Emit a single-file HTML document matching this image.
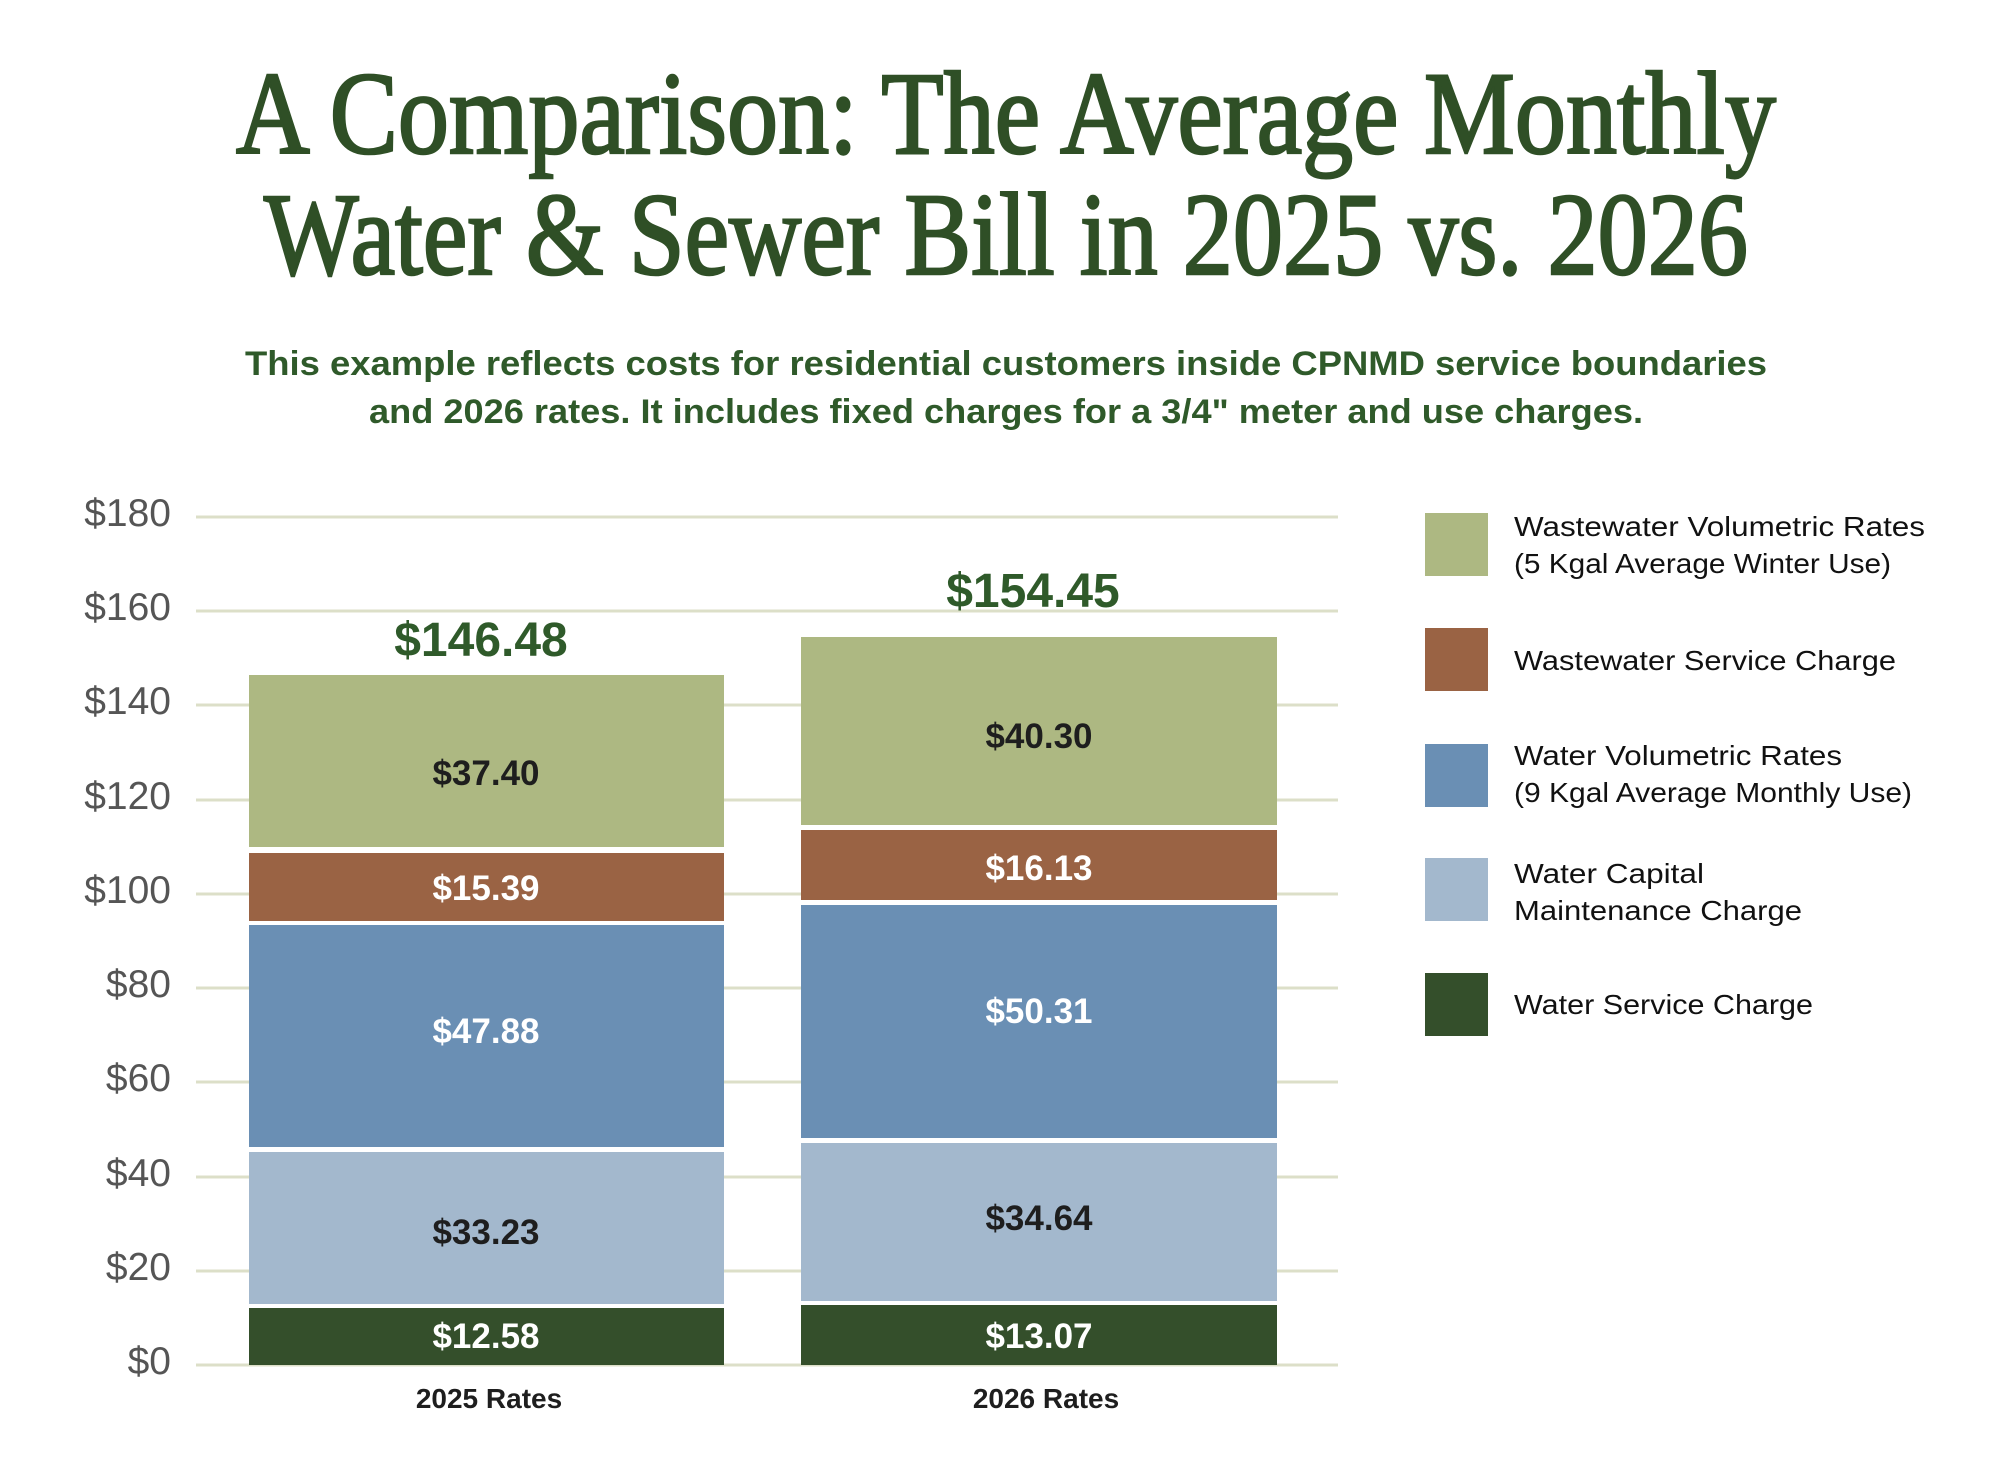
<!DOCTYPE html>
<html><head><meta charset="utf-8"><style>html,body{margin:0;padding:0;background:#fff}svg{display:block}</style></head>
<body>
<svg width="2000" height="1476" viewBox="0 0 2000 1476" xmlns="http://www.w3.org/2000/svg">
<rect width="2000" height="1476" fill="#fff"/>
<g font-family="'Liberation Serif', serif" fill="#2f4f26" stroke="#2f4f26" stroke-width="2.5" text-anchor="middle">
<text x="1006" y="153" font-size="118" textLength="1540" lengthAdjust="spacingAndGlyphs">A Comparison: The Average Monthly</text>
<text x="1006" y="274" font-size="118" textLength="1484" lengthAdjust="spacingAndGlyphs">Water &amp; Sewer Bill in 2025 vs. 2026</text>
</g>
<g font-family="'Liberation Sans', sans-serif" fill="#2f5a2a" text-anchor="middle" font-size="34" font-weight="bold">
<text x="1006" y="375" textLength="1522" lengthAdjust="spacingAndGlyphs">This example reflects costs for residential customers inside CPNMD service boundaries</text>
<text x="1006" y="423" textLength="1274" lengthAdjust="spacingAndGlyphs">and 2026 rates. It includes fixed charges for a 3/4" meter and use charges.</text>
</g>
<g stroke="#dcdfc8" stroke-width="3">
<line x1="196" x2="1338" y1="517" y2="517"/>
<line x1="196" x2="1338" y1="611" y2="611"/>
<line x1="196" x2="1338" y1="705" y2="705"/>
<line x1="196" x2="1338" y1="800" y2="800"/>
<line x1="196" x2="1338" y1="894" y2="894"/>
<line x1="196" x2="1338" y1="988" y2="988"/>
<line x1="196" x2="1338" y1="1082" y2="1082"/>
<line x1="196" x2="1338" y1="1177" y2="1177"/>
<line x1="196" x2="1338" y1="1271" y2="1271"/>
<line x1="196" x2="1338" y1="1365" y2="1365"/>
</g>
<g font-family="'Liberation Sans', sans-serif" fill="#555" font-size="39" text-anchor="end">
<text x="171" y="526">$180</text>
<text x="171" y="620">$160</text>
<text x="171" y="714">$140</text>
<text x="171" y="809">$120</text>
<text x="171" y="903">$100</text>
<text x="171" y="997">$80</text>
<text x="171" y="1091">$60</text>
<text x="171" y="1186">$40</text>
<text x="171" y="1280">$20</text>
<text x="171" y="1374">$0</text>
</g>
<rect x="249" y="675" width="475" height="172" fill="#adb882"/>
<rect x="249" y="853" width="475" height="68" fill="#9a6344"/>
<rect x="249" y="925" width="475" height="222" fill="#6a8fb4"/>
<rect x="249" y="1152" width="475" height="152" fill="#a3b8cd"/>
<rect x="249" y="1308" width="475" height="57" fill="#344f2b"/>
<rect x="801" y="637" width="476" height="188" fill="#adb882"/>
<rect x="801" y="830" width="476" height="70" fill="#9a6344"/>
<rect x="801" y="905" width="476" height="233" fill="#6a8fb4"/>
<rect x="801" y="1143" width="476" height="158" fill="#a3b8cd"/>
<rect x="801" y="1305" width="476" height="60" fill="#344f2b"/>
<g font-family="'Liberation Sans', sans-serif" font-weight="bold" text-anchor="middle" font-size="35">
<text x="486" y="785" fill="#1e1e1e">$37.40</text>
<text x="486" y="900" fill="#fff">$15.39</text>
<text x="486" y="1043" fill="#fff">$47.88</text>
<text x="486" y="1244" fill="#1e1e1e">$33.23</text>
<text x="486" y="1348" fill="#fff">$12.58</text>
<text x="1039" y="748" fill="#1e1e1e">$40.30</text>
<text x="1039" y="880" fill="#fff">$16.13</text>
<text x="1039" y="1023" fill="#fff">$50.31</text>
<text x="1039" y="1230" fill="#1e1e1e">$34.64</text>
<text x="1039" y="1348" fill="#fff">$13.07</text>
</g>
<g font-family="'Liberation Sans', sans-serif" font-weight="bold" text-anchor="middle" font-size="48" fill="#2f5a2a">
<text x="481" y="656">$146.48</text>
<text x="1033" y="607">$154.45</text>
</g>
<g font-family="'Liberation Sans', sans-serif" font-weight="bold" text-anchor="middle" font-size="28" fill="#1e1e1e">
<text x="489" y="1408">2025 Rates</text>
<text x="1046" y="1408">2026 Rates</text>
</g>
<rect x="1425" y="513" width="63" height="63" fill="#adb882"/>
<rect x="1425" y="628" width="63" height="63" fill="#9a6344"/>
<rect x="1425" y="744" width="63" height="63" fill="#6a8fb4"/>
<rect x="1425" y="858" width="63" height="63" fill="#a3b8cd"/>
<rect x="1425" y="973" width="63" height="63" fill="#344f2b"/>
<g font-family="'Liberation Sans', sans-serif" font-size="28" fill="#111">
<text x="1514" y="536" textLength="411" lengthAdjust="spacingAndGlyphs">Wastewater Volumetric Rates</text>
<text x="1514" y="573" textLength="377" lengthAdjust="spacingAndGlyphs">(5 Kgal Average Winter Use)</text>
<text x="1514" y="670" textLength="382" lengthAdjust="spacingAndGlyphs">Wastewater Service Charge</text>
<text x="1514" y="765" textLength="328" lengthAdjust="spacingAndGlyphs">Water Volumetric Rates</text>
<text x="1514" y="802" textLength="398" lengthAdjust="spacingAndGlyphs">(9 Kgal Average Monthly Use)</text>
<text x="1514" y="883" textLength="190" lengthAdjust="spacingAndGlyphs">Water Capital</text>
<text x="1514" y="920" textLength="288" lengthAdjust="spacingAndGlyphs">Maintenance Charge</text>
<text x="1514" y="1014" textLength="299" lengthAdjust="spacingAndGlyphs">Water Service Charge</text>
</g>
</svg>
</body></html>
